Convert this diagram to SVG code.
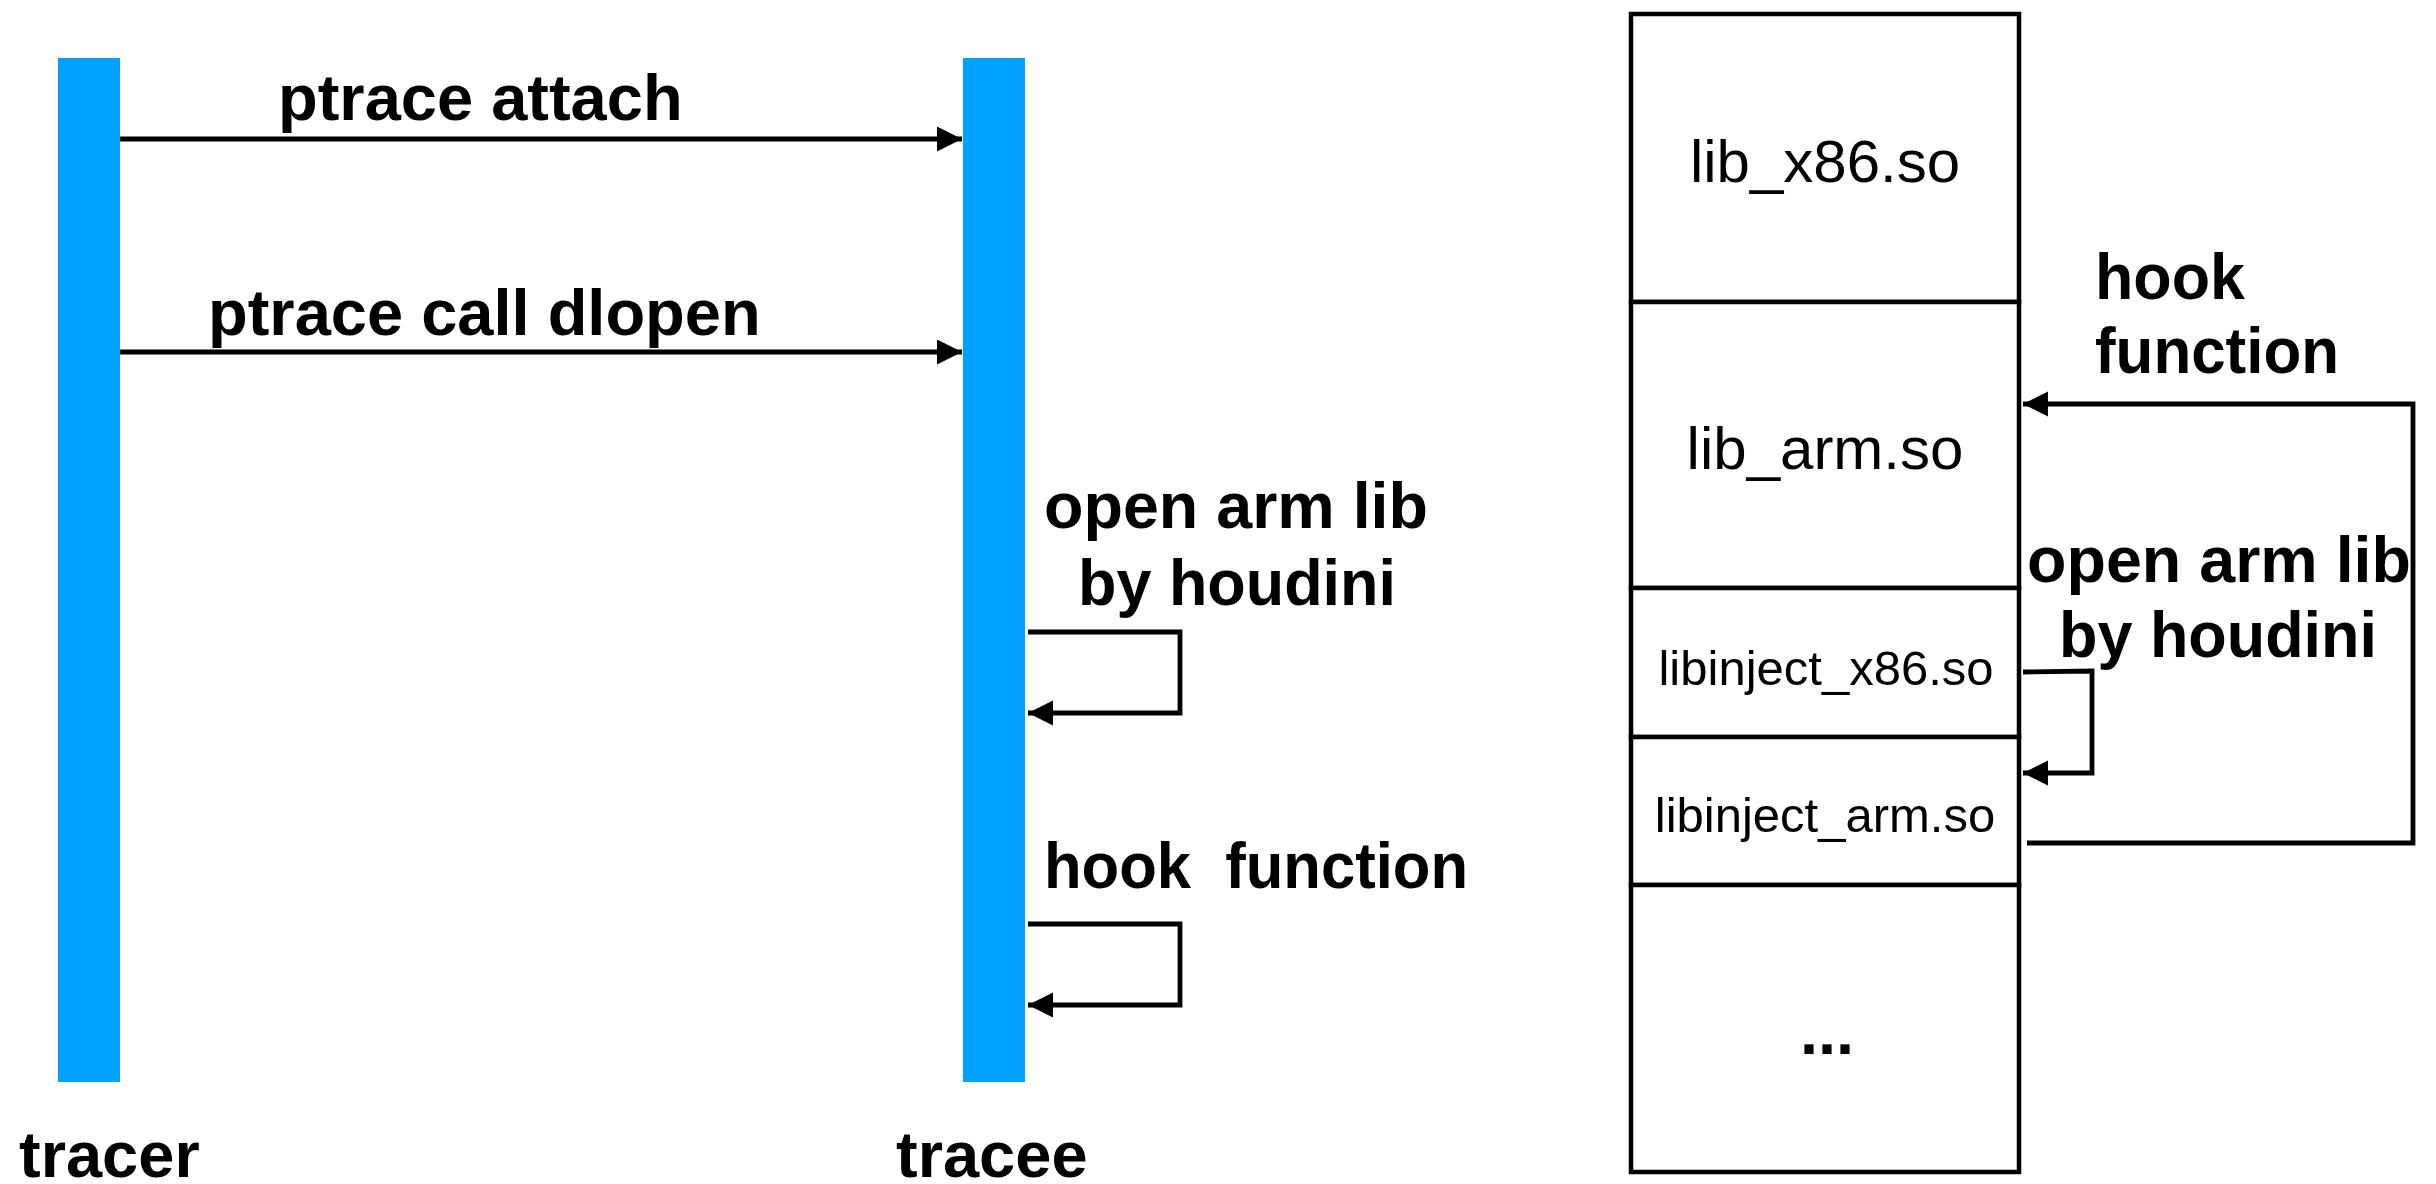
<svg xmlns="http://www.w3.org/2000/svg" width="2436" height="1184" viewBox="0 0 2436 1184">
<style>
  .lifeline { fill: #00A2FF; }
  .lbl { font-family: "Liberation Sans", Arial, Helvetica, sans-serif; font-weight: bold; font-size: 65px; fill: #000; white-space: pre; }
  .lib { font-family: "Liberation Sans", Arial, Helvetica, sans-serif; font-size: 60px; fill: #000; text-anchor: middle; }
  .libs { font-family: "Liberation Sans", Arial, Helvetica, sans-serif; font-size: 49px; fill: #000; text-anchor: middle; }
  .box { fill: #fff; stroke: #000; stroke-width: 4.5; }
  .conn { fill: none; stroke: #000; stroke-width: 4.8; }
</style>
<defs>
  <marker id="arrow" markerUnits="userSpaceOnUse" markerWidth="26" markerHeight="26" refX="25" refY="12.5" orient="auto">
    <path d="M0,0 L25,12.5 L0,25 Z" fill="#000"/>
  </marker>
</defs>
<rect width="2436" height="1184" fill="#fff"/>

<g id="tracer">
  <rect class="lifeline" x="58" y="58" width="62" height="1024"/>
  <text class="lbl" x="19" y="1177">tracer</text>
</g>
<g id="tracee">
  <rect class="lifeline" x="963" y="58" width="62" height="1024"/>
  <text class="lbl" x="896" y="1177">tracee</text>
</g>

<g id="memory">
  <g id="lib_x86">
    <rect class="box" x="1631" y="14" width="388" height="288"/>
    <text class="lib" x="1825" y="182">lib_x86.so</text>
  </g>
  <g id="lib_arm">
    <rect class="box" x="1631" y="302" width="388" height="286"/>
    <text class="lib" x="1825" y="469">lib_arm.so</text>
  </g>
  <g id="libinject_x86">
    <rect class="box" x="1631" y="588" width="388" height="149"/>
    <text class="libs" x="1826" y="685">libinject_x86.so</text>
  </g>
  <g id="libinject_arm">
    <rect class="box" x="1631" y="737" width="388" height="148"/>
    <text class="libs" x="1825" y="832">libinject_arm.so</text>
  </g>
  <g id="more">
    <rect class="box" x="1631" y="885" width="388" height="287"/>
    <text class="lbl" x="1827" y="1054" text-anchor="middle">...</text>
  </g>
</g>

<g id="connectors">
  <line class="conn" x1="120" y1="139" x2="962" y2="139" marker-end="url(#arrow)"/>
  <line class="conn" x1="120" y1="352" x2="962" y2="352" marker-end="url(#arrow)"/>
  <path class="conn" d="M1028,632 H1180 V713 H1028" marker-end="url(#arrow)"/>
  <path class="conn" d="M1028,924 H1180 V1005 H1028" marker-end="url(#arrow)"/>
  <path class="conn" d="M2023,672 L2092,671 V773 H2023" marker-end="url(#arrow)"/>
  <path class="conn" d="M2027,843 H2413 V404 H2023" marker-end="url(#arrow)"/>
</g>

<g id="labels">
  <text class="lbl" x="278" y="120">ptrace attach</text>
  <text class="lbl" x="208" y="335">ptrace call dlopen</text>
  <text class="lbl" x="1044" y="528" textLength="384" lengthAdjust="spacingAndGlyphs">open arm lib</text>
  <text class="lbl" x="1078" y="605" textLength="318" lengthAdjust="spacingAndGlyphs">by houdini</text>
  <text class="lbl" x="1044" y="888" textLength="424" lengthAdjust="spacingAndGlyphs">hook  function</text>
  <text class="lbl" x="2095" y="299" textLength="150" lengthAdjust="spacingAndGlyphs">hook</text>
  <text class="lbl" x="2095" y="373" textLength="244" lengthAdjust="spacingAndGlyphs">function</text>
  <text class="lbl" x="2027" y="582" textLength="384" lengthAdjust="spacingAndGlyphs">open arm lib</text>
  <text class="lbl" x="2059" y="657" textLength="318" lengthAdjust="spacingAndGlyphs">by houdini</text>
</g>
</svg>
